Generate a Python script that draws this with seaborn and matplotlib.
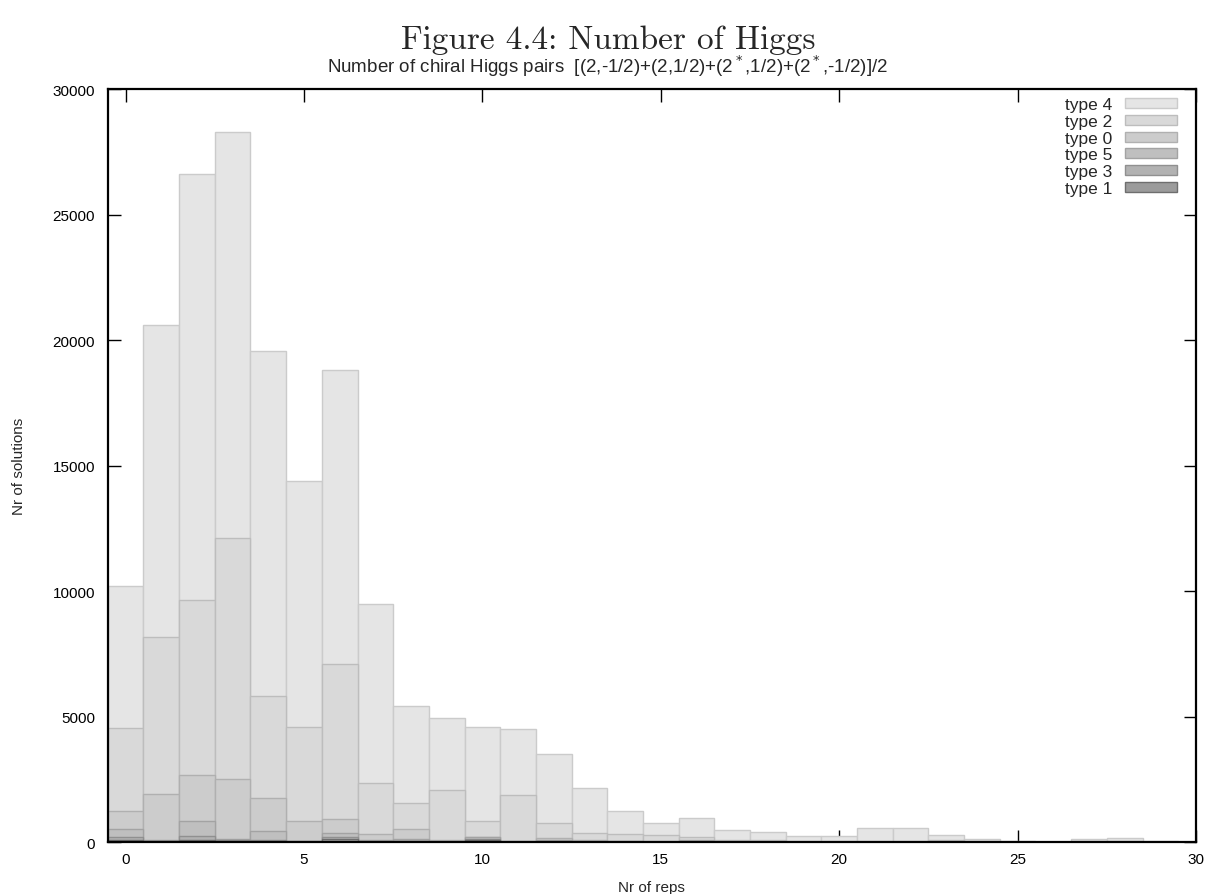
import numpy as np
import matplotlib
matplotlib.use("Agg")
import matplotlib.pyplot as plt
from matplotlib.patches import Patch
import seaborn as sns

# Number of representations (one bar per integer)
reps = np.arange(30)

# Drawn heights of each layer, from the back (lightest) to the front (darkest)
type4 = [10200, 20600, 26600, 28300, 19550, 14400, 18800, 9470, 5420, 4960,
         4600, 4490, 3500, 2165, 1230, 775, 956, 478, 386, 227,
         227, 558, 558, 267, 120, 40, 15, 110, 150, 25]
type2 = [4550, 8155, 9650, 12100, 5830, 4568, 7104, 2350, 1554, 2072,
         837, 1860, 757, 371, 306, 290, 190, 93, 80, 40,
         30, 45, 35, 93, 40, 10, 5, 30, 40, 5]
type0 = [1222, 1912, 2683, 2510, 1740, 850, 916, 300, 500, 60,
         200, 55, 150, 60, 50, 40, 70, 20, 15, 10,
         10, 10, 10, 10, 5, 0, 0, 5, 5, 0]
type5 = [500, 80, 823, 106, 430, 55, 345, 60, 106, 30,
         180, 25, 60, 20, 20, 10, 50, 10, 5, 5,
         5, 5, 5, 5, 0, 0, 0, 0, 0, 0]
type3 = [186, 40, 240, 60, 90, 30, 186, 30, 50, 15,
         120, 15, 30, 10, 10, 5, 20, 5, 0, 0,
         0, 0, 0, 0, 0, 0, 0, 0, 0, 0]
type1 = [80, 20, 60, 30, 40, 15, 106, 15, 30, 5,
         80, 5, 15, 5, 5, 0, 10, 0, 0, 0,
         0, 0, 0, 0, 0, 0, 0, 0, 0, 0]

labels = ["type 4", "type 2", "type 0", "type 5", "type 3", "type 1"]
series = [type4, type2, type0, type5, type3, type1]
fills = ["#e5e5e5", "#d9d9d9", "#cccccc", "#bfbfbf", "#b2b2b2", "#9b9b9b"]
edges = ["#cbcbcb", "#bdbdbd", "#b0b0b0", "#a3a3a3", "#909090", "#6e6e6e"]

sns.set_style("ticks")
plt.rcParams["font.family"] = ["Liberation Sans", "DejaVu Sans"]

fig = plt.figure(figsize=(12.16, 8.95), dpi=100)
ax = fig.add_axes([0.0886, 0.0581, 0.8950, 0.8413])

for vals, fc, ec in zip(series, fills, edges):
    sns.histplot(x=reps, weights=vals, discrete=True, element="bars",
                 color=fc, edgecolor=ec, linewidth=1.0, alpha=1.0, ax=ax)

ax.set_xlim(-0.5, 30)
ax.set_ylim(0, 30000)
ax.set_xticks(range(0, 31, 5))
ax.set_yticks(range(0, 30001, 5000))
ax.tick_params(direction="in", length=9, width=1.0, top=True, right=True,
               labelsize=11, colors="black")
ax.tick_params(axis="y", pad=9)
ax.tick_params(axis="x", pad=7)
for sp in ax.spines.values():
    sp.set_color("black")
    sp.set_linewidth(1.6)

ax.set_xlabel("Nr of reps", fontsize=11, labelpad=10)
ax.set_ylabel("Nr of solutions", fontsize=11, labelpad=19)

handles = [Patch(facecolor=fc, edgecolor=ec, linewidth=1.0)
           for fc, ec in zip(fills, edges)]
ax.legend(handles, labels, loc="upper right", bbox_to_anchor=(0.987, 0.996),
          borderaxespad=0.0, frameon=False, markerfirst=False,
          fontsize=12.5, handlelength=3.0, handleheight=0.5, labelspacing=0.1,
          handletextpad=0.7, borderpad=0.3)

fig.text(0.5, 0.955, "Figure 4.4: Number of Higgs", ha="center", va="center",
         fontsize=24, family="cmr10")
fig.text(0.5, 0.926,
         "Number of chiral Higgs pairs  [(2,-1/2)+(2,1/2)+(2$^*$,1/2)+(2$^*$,-1/2)]/2",
         ha="center", va="center", fontsize=13.5)

fig.savefig("out.png", dpi=100)
